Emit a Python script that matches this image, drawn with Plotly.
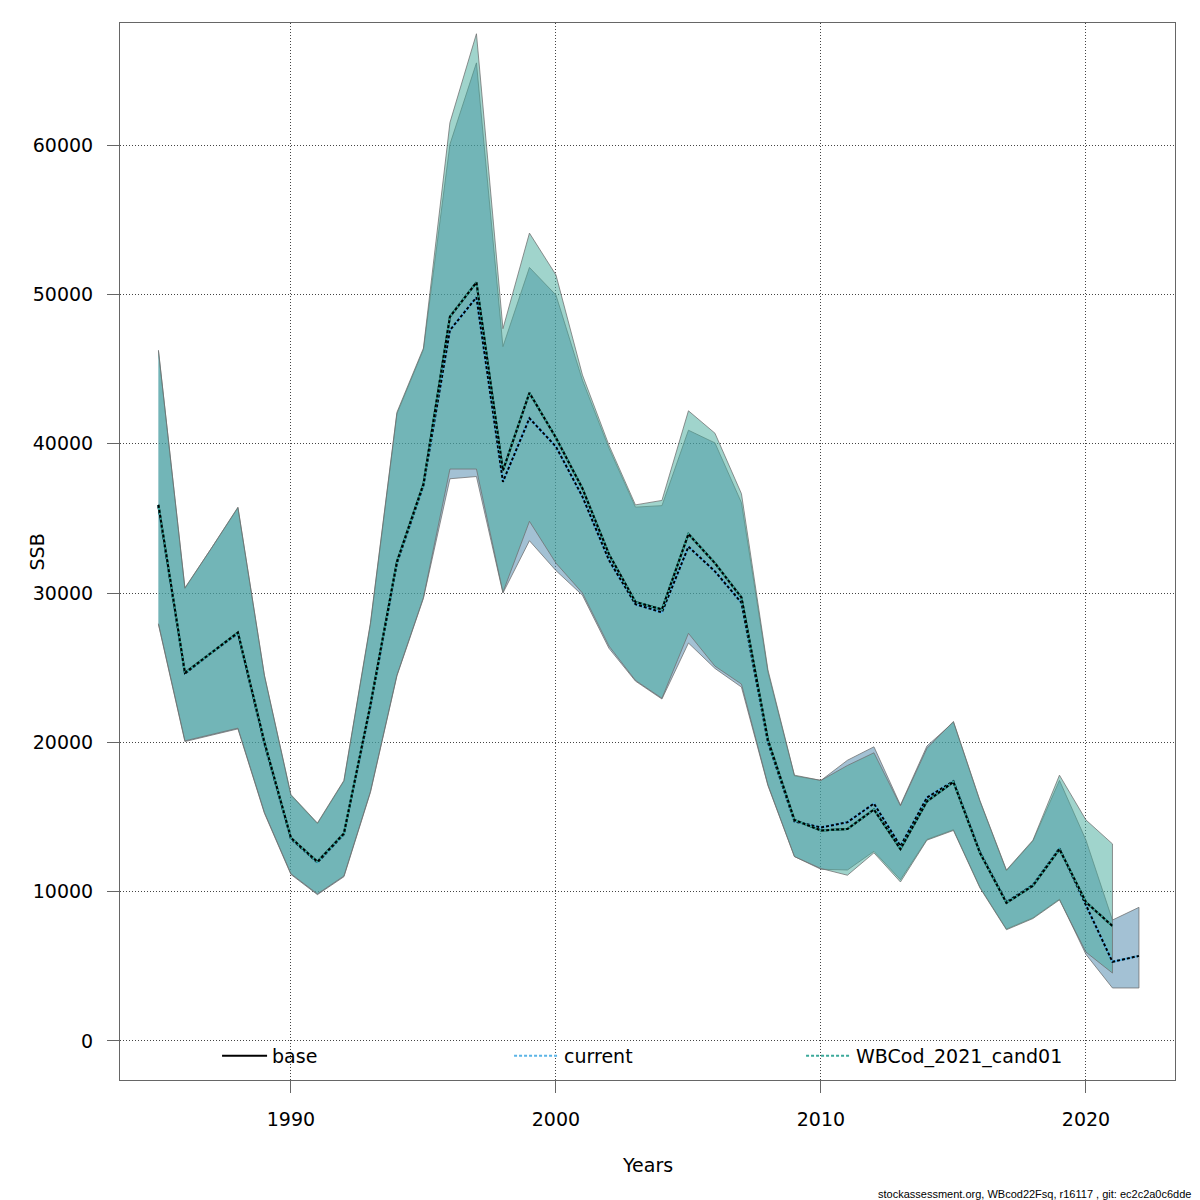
import plotly.graph_objects as go

# ---- data ----
years_base = list(range(1985, 2022))
years_current = list(range(1985, 2023))

base_ssb = [35900, 24650, 26000, 27350, 20000, 13600, 12000, 13900, 22500, 32100,
            37300, 48500, 50800, 38200, 43400, 40400, 37000, 32600, 29400, 28900,
            33950, 32000, 29700, 20160, 14800, 14100, 14200, 15500, 12850, 16050,
            17350, 12600, 9250, 10400, 12850, 9300, 7700]

current_ssb = [35800, 24600, 26000, 27300, 19900, 13550, 11950, 13850, 22400, 32000,
               37200, 47600, 49800, 37450, 41700, 39800, 36450, 32200, 29250, 28700,
               33100, 31450, 29350, 20000, 14700, 14300, 14650, 15900, 13050, 16300,
               17400, 12650, 9300, 10450, 12900, 9100, 5300, 5700]

cand_ssb = base_ssb

cand_upper = [46270, 30350, 33000, 35750, 24500, 16500, 14600, 17450, 28000, 42100,
              46400, 61500, 67450, 47700, 54100, 51300, 44600, 39900, 35900, 36200,
              42200, 40700, 36650, 24850, 17800, 17450, 18450, 19300, 15750, 19600,
              21400, 16100, 11450, 13450, 17800, 14800, 13200]
cand_lower = [27950, 20100, 20500, 20950, 15300, 11200, 9850, 11050, 16700, 24500,
              29700, 38300, 38300, 30050, 34800, 32000, 30000, 26450, 24150, 22950,
              27300, 25100, 23900, 17150, 12350, 11550, 11100, 12600, 10650, 13450,
              14100, 10250, 7450, 8200, 9450, 5950, 4550]

current_upper = [46200, 30300, 33000, 35700, 24450, 16450, 14550, 17400, 27900, 42000,
                 46300, 60050, 65500, 46500, 51800, 49950, 44250, 39700, 35750, 35850,
                 40900, 40050, 36050, 24700, 17750, 17450, 18800, 19700, 15800, 19750,
                 21350, 16050, 11400, 13400, 17450, 13450, 8100, 8950]
current_lower = [27900, 20050, 20450, 20900, 15250, 11150, 9800, 11000, 16650, 24450,
                 29650, 37650, 37800, 30000, 33500, 31500, 29850, 26300, 24100, 22900,
                 26650, 24950, 23700, 17100, 12350, 11500, 11450, 12700, 10800, 13500,
                 14150, 10300, 7500, 8250, 9500, 5800, 3550, 3550]

x_ticks = [1990, 2000, 2010, 2020]
y_ticks = [0, 10000, 20000, 30000, 40000, 50000, 60000]

FONT = "DejaVu Sans"
EDGE = "rgba(110,110,110,0.75)"


def band(years, upper, lower, fill):
    return go.Scatter(
        x=years + years[::-1],
        y=upper + lower[::-1],
        fill="toself",
        fillcolor=fill,
        line=dict(color=EDGE, width=1),
        mode="lines",
        hoverinfo="skip",
        showlegend=False,
    )


fig = go.Figure()

# confidence bands (current first, candidate drawn over it)
fig.add_trace(band(years_current, current_upper, current_lower, "rgba(71,131,169,0.5)"))
fig.add_trace(band(years_base, cand_upper, cand_lower, "rgba(65,169,153,0.5)"))

# base estimate
fig.add_trace(go.Scatter(x=years_base, y=base_ssb, mode="lines", name="base",
                         line=dict(color="black", width=2)))

# current: coloured line with black dashes on top
fig.add_trace(go.Scatter(x=years_current, y=current_ssb, mode="lines", name="current",
                         line=dict(color="#5ab4e6", width=2, dash="3px,2px")))
fig.add_trace(go.Scatter(x=years_current, y=current_ssb, mode="lines", showlegend=False,
                         line=dict(color="#5ab4e6", width=2)))
fig.add_trace(go.Scatter(x=years_current, y=current_ssb, mode="lines", showlegend=False,
                         line=dict(color="black", width=2, dash="3px,2px")))

# candidate run
fig.add_trace(go.Scatter(x=years_base, y=cand_ssb, mode="lines", name="WBCod_2021_cand01",
                         line=dict(color="#3aa99a", width=2, dash="3px,2px")))
fig.add_trace(go.Scatter(x=years_base, y=cand_ssb, mode="lines", showlegend=False,
                         line=dict(color="#3aa99a", width=2)))
fig.add_trace(go.Scatter(x=years_base, y=cand_ssb, mode="lines", showlegend=False,
                         line=dict(color="black", width=2, dash="3px,2px")))

axis_common = dict(
    showline=True, mirror=True, linecolor="#666", linewidth=1,
    ticks="outside", ticklen=12, tickcolor="#666", tickwidth=1,
    showgrid=True, gridcolor="#444", griddash="1px,2px", gridwidth=1,
    zeroline=False, tickfont=dict(family=FONT, size=19, color="black"),
    ticklabelstandoff=10,
)

fig.update_xaxes(range=[1983.55, 2023.36], tickvals=x_ticks, **axis_common)
fig.update_yaxes(range=[-2612, 68170], tickvals=y_ticks, tickformat="d", **axis_common)

fig.update_layout(
    width=1200, height=1200,
    margin=dict(l=112, r=33, t=15, b=128),
    plot_bgcolor="white", paper_bgcolor="white",
    font=dict(family=FONT, size=19, color="black"),
    legend=dict(
        orientation="h", x=0.092, y=0.0227, xanchor="left", yanchor="middle",
        entrywidth=232, entrywidthmode="pixels", itemwidth=45,
        bgcolor="rgba(0,0,0,0)", font=dict(family=FONT, size=19),
    ),
    annotations=[
        dict(text="SSB", xref="paper", yref="paper", x=-0.0787, y=0.5,
             xanchor="center", yanchor="middle",
             textangle=-90, showarrow=False, font=dict(family=FONT, size=19)),
        dict(text="Years", xref="paper", yref="paper", x=0.5, y=-0.0804,
             xanchor="center", yanchor="middle",
             showarrow=False, font=dict(family=FONT, size=19)),
        dict(text="stockassessment.org, WBcod22Fsq, r16117 , git: ec2c2a0c6dde",
             xref="paper", yref="paper", x=1.017, y=-0.1079, xanchor="right",
             yanchor="middle",
             showarrow=False, font=dict(family="Liberation Sans", size=11)),
    ],
)

fig.write_html("out.html")
